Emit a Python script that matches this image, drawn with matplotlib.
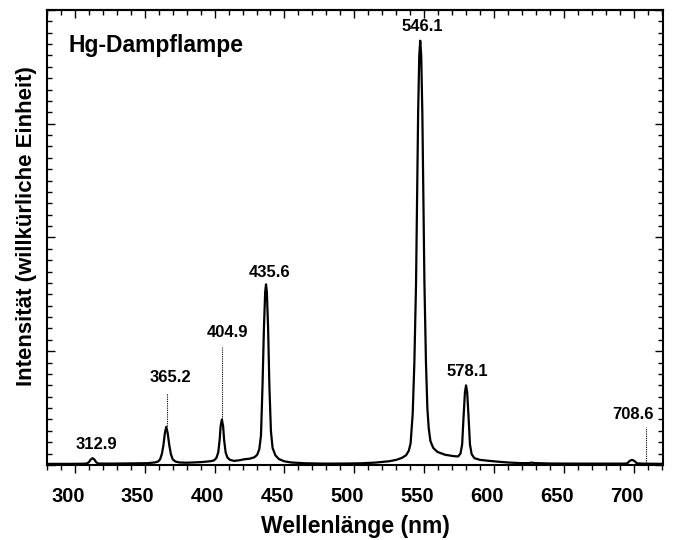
import matplotlib
matplotlib.use("Agg")
import matplotlib.pyplot as plt
import matplotlib.transforms as mtransforms
from matplotlib.ticker import MultipleLocator

plt.rcParams['font.family'] = ['Liberation Sans', 'DejaVu Sans']
plt.rcParams['font.weight'] = 'bold'

# spectrum (wavelength in nm, intensity in arb. units)
wavelength = [280, 295, 305, 308.5, 310, 311.3, 312.6, 313.9, 315.2, 316.5,
              325, 340, 352, 357, 359.5, 361, 362.3, 363.3, 364.4, 365.4,
              366.4, 367.6, 368.7, 370, 372, 375, 380, 390, 397, 399.5, 401.2,
              402.6, 403.6, 404.3, 405.2, 406.1, 406.8, 407.9, 409.2, 411,
              414, 418, 421, 425, 428.5, 430.5, 432, 433.2, 434.3, 435.3,
              436.2, 436.8, 437.4, 438.3, 439.2, 440.3, 441.5, 443.5, 446,
              450, 455, 465, 480, 495, 505, 515, 525, 530, 534, 537, 539,
              540.3, 541.8, 543.0, 544.2, 545.0, 545.7, 546.5, 547.2, 547.9,
              548.7, 549.4, 550.2, 551.3, 552.3, 553.3, 554.5, 556.5, 559.5,
              565, 571, 574.3, 576, 577.2, 578.2, 579.2, 580, 580.8, 581.8,
              582.8, 584, 586, 590, 596, 603, 610, 620, 625, 627, 629, 640,
              660, 680, 693, 695.5, 697, 698.8, 700.6, 702.2, 706, 721]
intensity = [0.010, 0.010, 0.011, 0.013, 0.025, 0.048, 0.060, 0.048, 0.025,
             0.013, 0.012, 0.014, 0.016, 0.022, 0.030, 0.050, 0.100, 0.170,
             0.280, 0.336, 0.280, 0.170, 0.095, 0.050, 0.030, 0.022, 0.020,
             0.025, 0.033, 0.040, 0.060, 0.110, 0.220, 0.340, 0.400, 0.340,
             0.220, 0.110, 0.065, 0.045, 0.036, 0.042, 0.050, 0.055, 0.068,
             0.090, 0.140, 0.260, 0.700, 1.200, 1.520, 1.588, 1.520, 1.200,
             0.700, 0.300, 0.150, 0.085, 0.052, 0.032, 0.022, 0.015, 0.012,
             0.013, 0.015, 0.021, 0.033, 0.045, 0.062, 0.085, 0.125, 0.190,
             0.450, 0.900, 1.600, 2.400, 3.100, 3.600, 3.730, 3.600, 3.100,
             2.400, 1.600, 0.900, 0.500, 0.320, 0.210, 0.150, 0.115, 0.090,
             0.078, 0.075, 0.100, 0.180, 0.420, 0.640, 0.700, 0.640, 0.420,
             0.180, 0.095, 0.060, 0.045, 0.037, 0.029, 0.022, 0.016, 0.017,
             0.021, 0.017, 0.013, 0.012, 0.012, 0.012, 0.015, 0.035, 0.045,
             0.035, 0.015, 0.012, 0.010]

# line labels: text, label x, label bottom y
line_names = ['312.9', '365.2', '404.9', '435.6', '546.1', '578.1', '708.6']
label_x = [315.5, 368.2, 408.9, 439.0, 548.9, 581.1, 699.6]
label_y = [0.11, 0.70, 1.10, 1.63, 3.79, 0.76, 0.38]

# dotted marker lines: x, top, bottom
marker_x = [365.9, 405.2, 708.8]
marker_top = [0.63, 1.04, 0.33]
marker_bottom = [0.34, 0.40, 0.015]

fig = plt.figure(figsize=(6.76, 5.40), dpi=100)
ax = fig.add_axes([0.0695, 0.1389, 0.9113, 0.8426])

ax.plot(wavelength, intensity, color='black', lw=1.6)
ax.vlines(marker_x, marker_bottom, marker_top, colors='black',
          linestyles=(0, (1, 1)), lw=0.8)

for name, x, y in zip(line_names, label_x, label_y):
    ax.text(x, y, name, ha='center', va='bottom', fontsize=12,
            fontweight='bold')

ax.text(0.035, 0.908, 'Hg-Dampflampe', transform=ax.transAxes,
        fontsize=16.5, fontweight='bold', va='baseline', ha='left')

ax.set_xlim(280, 721)
ax.set_ylim(0, 4)

ax.xaxis.set_major_locator(MultipleLocator(50))
ax.xaxis.set_minor_locator(MultipleLocator(10))
ax.yaxis.set_major_locator(MultipleLocator(1))
ax.yaxis.set_minor_locator(MultipleLocator(0.1))

ax.tick_params(axis='x', which='both', direction='out', top=False,
               labelsize=14.5, pad=10)
ax.tick_params(axis='x', which='major', length=6, width=1)
ax.tick_params(axis='x', which='minor', length=3.5, width=1)
ax.tick_params(axis='y', which='both', direction='in', left=True,
               right=True, labelleft=False)
ax.tick_params(axis='y', which='major', length=6, width=1)
ax.tick_params(axis='y', which='minor', length=3.5, width=1)

top = ax.secondary_xaxis('top')
top.xaxis.set_major_locator(MultipleLocator(50))
top.xaxis.set_minor_locator(MultipleLocator(10))
top.tick_params(which='both', direction='in', labeltop=False)
top.tick_params(which='major', length=6, width=1)
top.tick_params(which='minor', length=3.5, width=1)

for sp in list(ax.spines.values()) + [top.spines['top']]:
    sp.set_linewidth(1.5)

# tick labels sit a little left of their ticks in the original
shift = mtransforms.ScaledTranslation(-0.07, 0, fig.dpi_scale_trans)
for lab in ax.xaxis.get_majorticklabels():
    lab.set_fontweight('bold')
    lab.set_transform(lab.get_transform() + shift)

ax.set_xlabel('Wellenlänge (nm)', fontsize=16.5, fontweight='bold',
              labelpad=6)
ax.set_ylabel('Intensität (willkürliche Einheit)', fontsize=16,
              fontweight='bold')
ax.yaxis.set_label_coords(-0.017, 0.525)

fig.savefig('out.png', dpi=100)
